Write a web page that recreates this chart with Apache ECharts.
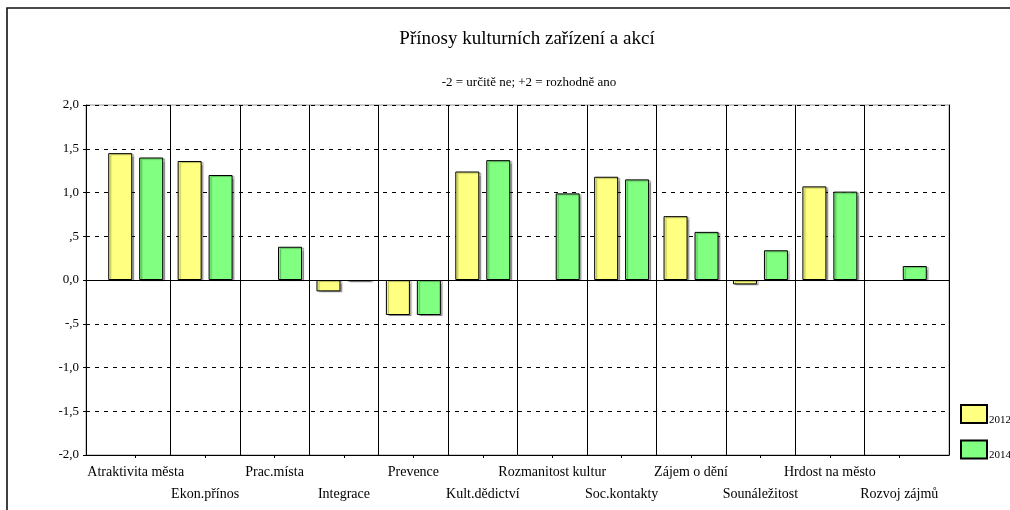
<!DOCTYPE html>
<html>
<head>
<meta charset="utf-8">
<script src="https://cdn.jsdelivr.net/npm/echarts@6/dist/echarts.min.js"></script>
<style>html,body{margin:0;padding:0;background:#fff;}#c{width:1010px;height:510px;}</style>
</head>
<body>
<div id="c"></div>
<script>
const categories = ['Atraktivita města','Ekon.přínos','Prac.místa','Integrace','Prevence','Kult.dědictví','Rozmanitost kultur','Soc.kontakty','Zájem o dění','Sounáležitost','Hrdost na město','Rozvoj zájmů'];
const values2012 = [1.45, 1.36, null, -0.13, -0.40, 1.24, null, 1.18, 0.73, -0.05, 1.07, null];
const values2014 = [1.40, 1.20, 0.38, -0.015, -0.40, 1.37, 0.99, 1.15, 0.55, 0.34, 1.01, 0.16];
const yTickValues = [-2, -1.5, -1, -0.5, 0, 0.5, 1, 1.5, 2];
const yTickLabels = ['-2,0','-1,5','-1,0','-,5','0,0',',5','1,0','1,5','2,0'];
const seriesNames = ['2012','2014'];

const FONT = "'Liberation Serif','Times New Roman',serif";
const chart = echarts.init(document.getElementById('c'), null, {renderer:'canvas'});
const shadow = {shadowColor:'rgba(0,0,0,0.3)', shadowOffsetX:2, shadowOffsetY:1, shadowBlur:1};

chart.setOption({
  animation: false,
  backgroundColor: '#fff',
  textStyle: {fontFamily: FONT, color: '#000'},
  graphic: [{
    type: 'rect', shape: {x: 7, y: 8, width: 1200, height: 700},
    style: {fill: 'none', stroke: '#111', lineWidth: 1.6}, silent: true, z: 100
  }],
  title: [
    {text: 'Přínosy kulturních zařízení a akcí', left: 522, top: 25, textAlign: 'center',
     textStyle: {fontFamily: FONT, fontSize: 19, fontWeight: 'normal', color: '#000'}},
    {text: '-2 = určitě ne; +2 = rozhodně ano', left: 524, top: 71, textAlign: 'center',
     textStyle: {fontFamily: FONT, fontSize: 13, fontWeight: 'normal', color: '#000'}}
  ],
  legend: {
    data: seriesNames, orient: 'vertical', left: 960, top: 404, padding: 0,
    itemWidth: 26, itemHeight: 18, itemGap: 14, icon: 'rect',
    formatter: '{a|{name}}',
    textStyle: {fontFamily: FONT, fontSize: 11, color: '#000',
      rich: {a: {fontFamily: FONT, fontSize: 11, color: '#000', padding: [12, 0, 0, -3]}}}
  },
  grid: [
    {left: 86, right: 61, top: 105, bottom: 55, show: true, borderColor: '#999', borderWidth: 1},
    {left: 101, right: 76, top: 105, bottom: 55}
  ],
  xAxis: [
    {gridIndex: 0, type: 'value', min: 0, max: 1, position: 'bottom',
     axisLine: {show: true, onZero: false, lineStyle: {color: '#000', width: 1}},
     axisTick: {show: false}, axisLabel: {show: false}, splitLine: {show: false}},
    {gridIndex: 1, type: 'category', data: categories, position: 'bottom',
     axisLine: {show: false, onZero: false},
     axisTick: {show: true, alignWithLabel: true, length: 3, lineStyle: {color: '#000'}},
     axisLabel: {interval: 0, fontFamily: FONT, fontSize: 14, color: '#000', margin: 6, lineHeight: 22.5,
       formatter: (v, i) => (i % 2 ? '\n' + v : v)},
     splitLine: {show: true, showMinLine: false, showMaxLine: false, lineStyle: {color: '#000', width: 1, type: 'solid'}}}
  ],
  yAxis: [
    {gridIndex: 0, type: 'value', min: -2, max: 2, interval: 0.5,
     axisLine: {show: true, lineStyle: {color: '#000', width: 1}},
     axisTick: {show: true, length: 3, lineStyle: {color: '#000'}},
     axisLabel: {fontFamily: FONT, fontSize: 13, color: '#000', margin: 7,
       formatter: v => { const i = yTickValues.findIndex(t => Math.abs(t - v) < 1e-9); return i >= 0 ? yTickLabels[i] : ''; }},
     splitLine: {show: true, lineStyle: {color: '#000', type: [4, 5], width: 1}}},
    {gridIndex: 0, type: 'value', min: -2, max: 2, interval: 0.5, position: 'right',
     axisLine: {show: true, lineStyle: {color: '#000', width: 1}},
     axisTick: {show: false}, axisLabel: {show: false}, splitLine: {show: false}},
    {gridIndex: 1, type: 'value', min: -2, max: 2, interval: 0.5, show: false}
  ],
  series: [
    {name: '__zero', type: 'line', xAxisIndex: 0, yAxisIndex: 0, data: [], silent: true,
     markLine: {symbol: 'none', silent: true, label: {show: false},
       lineStyle: {color: '#000', type: 'solid', width: 1}, data: [{yAxis: 0}]}},
    {name: seriesNames[0], type: 'bar', xAxisIndex: 1, yAxisIndex: 2, data: values2012,
     barWidth: 24, barGap: '29%', z: 5,
     itemStyle: Object.assign({color: '#FFFF80', borderColor: '#000', borderWidth: 1}, shadow)},
    {name: seriesNames[1], type: 'bar', xAxisIndex: 1, yAxisIndex: 2, data: values2014,
     barWidth: 24, barGap: '29%', z: 5,
     itemStyle: Object.assign({color: '#80FF80', borderColor: '#000', borderWidth: 1}, shadow)}
  ]
});
</script>
</body>
</html>
